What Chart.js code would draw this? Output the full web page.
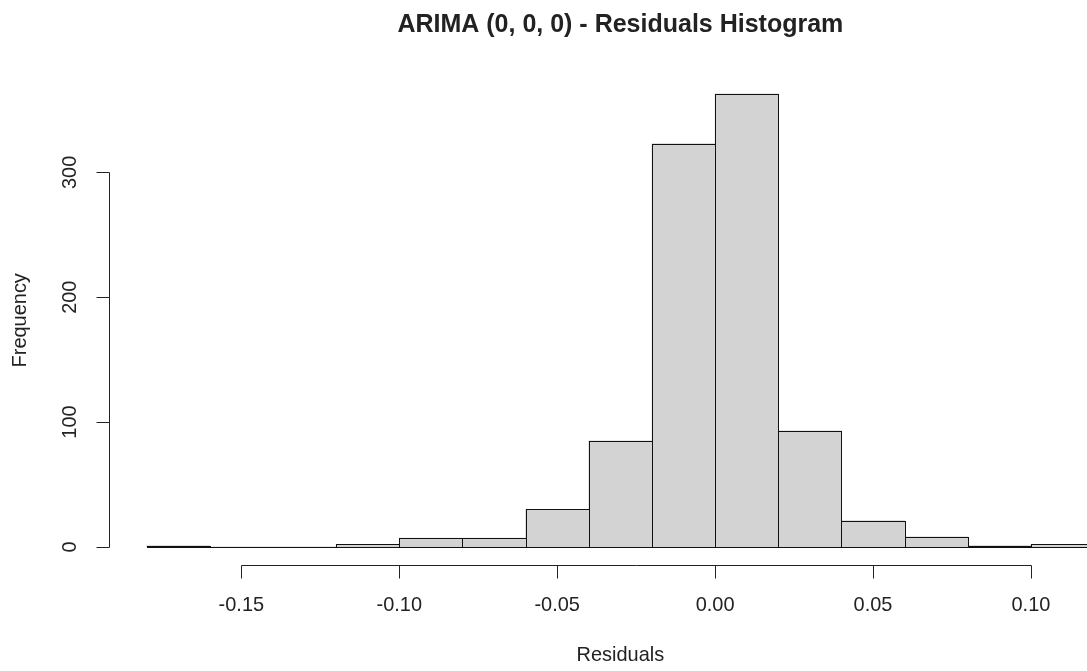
<!DOCTYPE html>
<html>
<head>
<meta charset="utf-8">
<script src="https://cdn.jsdelivr.net/npm/chart.js@4.4.1/dist/chart.umd.min.js"></script>
<style>
  html, body { margin: 0; padding: 0; background: #fff; overflow: hidden; }
  #wrap { width: 1087px; height: 671px; overflow: hidden; }
</style>
</head>
<body>
<div id="wrap"><canvas id="hist" width="1200" height="671"></canvas></div>
<script>
// histogram bins (breaks) and counts
const breaks = [-0.18, -0.16, -0.14, -0.12, -0.10, -0.08, -0.06, -0.04, -0.02, 0.00, 0.02, 0.04, 0.06, 0.08, 0.10, 0.12];
const counts = [1, 0, 0, 2, 7, 7, 30, 85, 323, 363, 93, 21, 8, 1, 2];

// axis ticks
const xTicks = [-0.15, -0.10, -0.05, 0.00, 0.05, 0.10];
const xTickLabels = ['-0.15', '-0.10', '-0.05', '0.00', '0.05', '0.10'];
const yTicks = [0, 100, 200, 300];
const yTickLabels = ['0', '100', '200', '300'];

const titleText = 'ARIMA (0, 0, 0) - Residuals Histogram';
const xLabel = 'Residuals';
const yLabel = 'Frequency';

// R style 4% padding around the data range
const xLo = breaks[0], xHi = breaks[breaks.length - 1];
const yHi = Math.max(...counts);
const xPad = (xHi - xLo) * 0.04, yPad = yHi * 0.04;

const bins = counts.map((c, i) => ({ x: (breaks[i] + breaks[i + 1]) / 2, y: c }));

const FONT = '"Liberation Sans", Arial, sans-serif';
const INK = '#222';

function squeezedText(ctx, text, x, y, font, sx, angle) {
    ctx.save();
    ctx.translate(x, y);
    if (angle) ctx.rotate(angle);
    ctx.scale(sx, 1);
    ctx.font = font;
    ctx.textAlign = 'center';
    ctx.textBaseline = 'middle';
    ctx.fillStyle = INK;
    ctx.fillText(text, 0, 0);
    ctx.restore();
}

// outlines every bin like R's rect(), including empty bins
const binOutline = {
    id: 'binOutline',
    afterDatasetsDraw(chart) {
        const ctx = chart.ctx;
        ctx.save();
        ctx.strokeStyle = '#111';
        ctx.lineWidth = 1;
        chart.getDatasetMeta(0).data.forEach(bar => {
            const p = bar.getProps(['x', 'y', 'base', 'width'], true);
            const l = Math.round(p.x - p.width / 2) + 0.5;
            const r = Math.round(p.x + p.width / 2) + 0.5;
            const t = Math.round(p.y) + 0.5;
            const b = Math.round(p.base) + 0.5;
            ctx.strokeRect(l, t, r - l, b - t);
        });
        ctx.restore();
    }
};

// base-graphics style axes, title and labels
const baseAxes = {
    id: 'baseAxes',
    afterDraw(chart) {
        const ctx = chart.ctx;
        const area = chart.chartArea;
        const xs = chart.scales.x, ys = chart.scales.y;
        const tick = 13;

        ctx.save();
        ctx.strokeStyle = INK;
        ctx.lineWidth = 1;

        // x axis
        const yAx = Math.round(area.bottom) + 0.5;
        ctx.beginPath();
        ctx.moveTo(Math.round(xs.getPixelForValue(xTicks[0])) + 0.5, yAx);
        ctx.lineTo(Math.round(xs.getPixelForValue(xTicks[xTicks.length - 1])) + 0.5, yAx);
        xTicks.forEach(v => {
            const px = Math.round(xs.getPixelForValue(v)) + 0.5;
            ctx.moveTo(px, yAx);
            ctx.lineTo(px, yAx + tick);
        });
        ctx.stroke();

        // y axis
        const xAx = Math.round(area.left) + 0.5;
        ctx.beginPath();
        ctx.moveTo(xAx, Math.round(ys.getPixelForValue(yTicks[0])) + 0.5);
        ctx.lineTo(xAx, Math.round(ys.getPixelForValue(yTicks[yTicks.length - 1])) + 0.5);
        yTicks.forEach(v => {
            const py = Math.round(ys.getPixelForValue(v)) + 0.5;
            ctx.moveTo(xAx, py);
            ctx.lineTo(xAx - tick, py);
        });
        ctx.stroke();
        ctx.restore();

        const axisFont = '21px ' + FONT;
        xTicks.forEach((v, i) => {
            squeezedText(ctx, xTickLabels[i], xs.getPixelForValue(v), area.bottom + 40, axisFont, 0.95);
        });
        yTicks.forEach((v, i) => {
            squeezedText(ctx, yTickLabels[i], area.left - 38, ys.getPixelForValue(v), axisFont, 0.95, -Math.PI / 2);
        });

        const midX = (area.left + area.right) / 2;
        const midY = (area.top + area.bottom) / 2;
        squeezedText(ctx, titleText, midX, 25, 'bold 25px ' + FONT, 1.0);
        squeezedText(ctx, xLabel, midX, area.bottom + 90, axisFont, 0.95);
        squeezedText(ctx, yLabel, 20, midY, axisFont, 0.95, -Math.PI / 2);
    }
};

new Chart(document.getElementById('hist'), {
    type: 'bar',
    data: {
        datasets: [{
            data: bins,
            backgroundColor: '#D3D3D3',
            borderWidth: 0,
            barPercentage: 1,
            categoryPercentage: 1
        }]
    },
    options: {
        responsive: false,
        devicePixelRatio: 1,
        animation: false,
        layout: { padding: { left: 108.7, right: 68, top: 75.6, bottom: 106 } },
        plugins: { legend: { display: false }, tooltip: { enabled: false } },
        scales: {
            x: { type: 'linear', display: false, offset: false, min: xLo - xPad, max: xHi + xPad },
            y: { display: false, min: -yPad, max: yHi + yPad }
        }
    },
    plugins: [binOutline, baseAxes]
});
</script>
</body>
</html>
